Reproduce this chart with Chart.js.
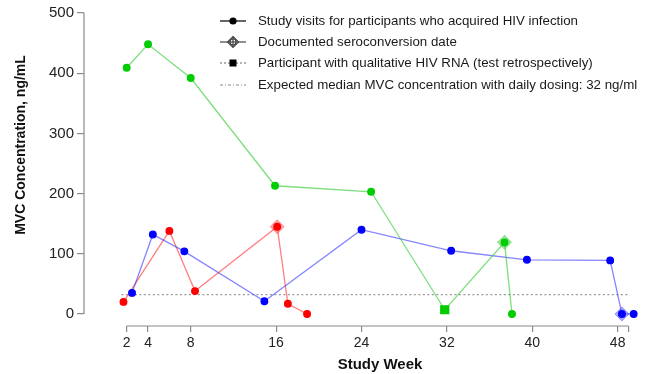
<!DOCTYPE html>
<html>
<head>
<meta charset="utf-8">
<script src="https://cdn.jsdelivr.net/npm/chart.js@4"></script>
<style>
    body { margin: 0; background: #fff; }
    canvas { display: block; }
</style>
</head>
<body>
<canvas id="grafico" width="649" height="374"></canvas>
<script>
// valores (semana do estudo, concentração MVC ng/mL)
const semanasVerde = [2, 4, 8, 15.9, 24.9, 31.8, 37.4, 38.1];
const mvcVerde = [409, 448, 392, 213, 203, 7, 119, 0];
const estilosVerde = ['circle', 'circle', 'circle', 'circle', 'circle', 'rect', 'circle', 'circle'];

const semanasAzul = [2.5, 4.45, 7.4, 14.9, 24, 32.4, 39.5, 47.3, 48.4, 49.5];
const mvcAzul = [35, 132, 104, 21, 140, 105, 90, 89, 0, 0];

const semanasVermelho = [1.7, 6, 8.4, 16.1, 17.1, 18.9];
const mvcVermelho = [20, 138, 38, 145, 17, 0];

const semanasSoroconversao = [16.1, 37.4, 48.4];
const mvcSoroconversao = [145, 119, 0];
const coresSoroconversao = ['rgba(255,60,60,0.45)', 'rgba(40,200,40,0.45)', 'rgba(70,70,255,0.45)'];

const linhaEsperada = 32;
const semanasLinhaEsperada = [1.5, 49];

const ticksX = [2, 4, 8, 16, 24, 32, 40, 48, 49];
const ticksY = [0, 100, 200, 300, 400, 500];

const textosLegenda = [
    'Study visits for participants who acquired HIV infection',
    'Documented seroconversion date',
    'Participant with qualitative HIV RNA (test retrospectively)',
    'Expected median MVC concentration with daily dosing: 32 ng/ml'
];

const juntar = (xs, ys) => xs.map((x, i) => ({ x: x, y: ys[i] }));

const FONTE = '"Liberation Sans", Arial, sans-serif';

const pluginExtras = {
    id: 'extras',
    afterDraw(chart) {
        const ctx = chart.ctx;
        const x = chart.scales.x;
        const y = chart.scales.y;
        ctx.save();

        // linhas dos eixos (estilo R, destacadas)
        ctx.strokeStyle = '#8a8a8a';
        ctx.lineWidth = 1.2;
        ctx.beginPath();
        ctx.moveTo(84, y.getPixelForValue(0));
        ctx.lineTo(84, y.getPixelForValue(500));
        ctx.moveTo(x.getPixelForValue(2), 326);
        ctx.lineTo(x.getPixelForValue(49), 326);
        ctx.stroke();

        // títulos dos eixos
        ctx.fillStyle = '#111';
        ctx.font = 'bold 15px ' + FONTE;
        ctx.textAlign = 'center';
        ctx.textBaseline = 'middle';
        ctx.fillText('Study Week', 380, 365);
        ctx.translate(21, 145);
        ctx.rotate(-Math.PI / 2);
        ctx.font = 'bold 14px ' + FONTE;
        ctx.fillText('MVC Concentration, ng/mL', 0, 0);
        ctx.restore();

        // legenda
        ctx.save();
        const linhasY = [21, 42, 63, 85];
        const x0 = 220, x1 = 246, xm = 233;
        ctx.lineWidth = 1.2;

        ctx.strokeStyle = '#000';
        ctx.beginPath(); ctx.moveTo(x0, linhasY[0]); ctx.lineTo(x1, linhasY[0]); ctx.stroke();
        ctx.fillStyle = '#000';
        ctx.beginPath(); ctx.arc(xm, linhasY[0], 3.6, 0, Math.PI * 2); ctx.fill();

        ctx.strokeStyle = '#444';
        ctx.beginPath(); ctx.moveTo(x0, linhasY[1]); ctx.lineTo(x1, linhasY[1]); ctx.stroke();
        ctx.beginPath();
        ctx.moveTo(xm, linhasY[1] - 5.5); ctx.lineTo(xm + 5.5, linhasY[1]);
        ctx.lineTo(xm, linhasY[1] + 5.5); ctx.lineTo(xm - 5.5, linhasY[1]); ctx.closePath();
        ctx.moveTo(xm, linhasY[1] - 5.5); ctx.lineTo(xm, linhasY[1] + 5.5);
        ctx.stroke();
        ctx.beginPath(); ctx.arc(xm, linhasY[1], 3, 0, Math.PI * 2); ctx.stroke();

        ctx.strokeStyle = '#666';
        ctx.setLineDash([2, 2]);
        ctx.beginPath(); ctx.moveTo(x0, linhasY[2]); ctx.lineTo(x1, linhasY[2]); ctx.stroke();
        ctx.setLineDash([]);
        ctx.fillStyle = '#000';
        ctx.fillRect(xm - 3.5, linhasY[2] - 3.5, 7, 7);

        ctx.strokeStyle = '#888';
        ctx.lineWidth = 1;
        ctx.setLineDash([3, 2, 1, 2]);
        ctx.beginPath(); ctx.moveTo(x0, linhasY[3]); ctx.lineTo(x1, linhasY[3]); ctx.stroke();
        ctx.setLineDash([]);

        ctx.fillStyle = '#1a1a1a';
        ctx.font = '13.3px ' + FONTE;
        ctx.textAlign = 'left';
        ctx.textBaseline = 'middle';
        textosLegenda.forEach((t, i) => ctx.fillText(t, 258, linhasY[i]));
        ctx.restore();
    }
};

const ctxGrafico = document.getElementById('grafico');

new Chart(ctxGrafico, {
    type: 'scatter',
    data: {
        datasets: [
            {
                label: 'esperado',
                data: juntar(semanasLinhaEsperada, [linhaEsperada, linhaEsperada]),
                showLine: true,
                borderColor: '#999',
                borderWidth: 1.2,
                borderDash: [2, 2.5],
                pointRadius: 0,
                order: 5
            },
            {
                label: 'soroconversao',
                data: juntar(semanasSoroconversao, mvcSoroconversao),
                showLine: false,
                pointStyle: 'rectRot',
                pointRadius: 7,
                backgroundColor: coresSoroconversao,
                borderColor: coresSoroconversao,
                borderWidth: 1,
                order: 4
            },
            {
                label: 'vermelho',
                data: juntar(semanasVermelho, mvcVermelho),
                showLine: true,
                borderColor: 'rgba(255,40,40,0.6)',
                borderWidth: 1.3,
                backgroundColor: '#ff0000',
                pointBorderColor: '#ff0000',
                pointRadius: 3.3,
                order: 3
            },
            {
                label: 'azul',
                data: juntar(semanasAzul, mvcAzul),
                showLine: true,
                borderColor: 'rgba(50,50,255,0.6)',
                borderWidth: 1.3,
                backgroundColor: '#0000ff',
                pointBorderColor: '#0000ff',
                pointRadius: 3.3,
                order: 2
            },
            {
                label: 'verde',
                data: juntar(semanasVerde, mvcVerde),
                showLine: true,
                borderColor: 'rgba(40,200,40,0.6)',
                borderWidth: 1.3,
                backgroundColor: '#00cc00',
                pointBorderColor: '#00cc00',
                pointStyle: estilosVerde,
                pointRadius: estilosVerde.map((s) => s === 'rect' ? 5.6 : 3.3),
                order: 1
            }
        ]
    },
    options: {
        responsive: false,
        animation: false,
        devicePixelRatio: 1,
        layout: { padding: { top: 13, right: 10, left: 0, bottom: 0 } },
        plugins: {
            legend: { display: false },
            tooltip: { enabled: false }
        },
        scales: {
            x: {
                type: 'linear',
                min: -2,
                max: 50,
                afterFit: (escala) => { escala.height = 48; },
                afterBuildTicks: (escala) => { escala.ticks = ticksX.map((v) => ({ value: v })); },
                grid: { drawOnChartArea: false, drawTicks: true, tickLength: 6, color: '#8a8a8a', lineWidth: 1.2 },
                border: { display: false },
                ticks: {
                    autoSkip: false,
                    maxRotation: 0,
                    padding: 3,
                    color: '#222',
                    font: { family: FONTE, size: 14 },
                    callback: (v) => v === 49 ? '' : v
                }
            },
            y: {
                type: 'linear',
                min: -20,
                max: 500,
                afterFit: (escala) => { escala.width = 84; },
                afterBuildTicks: (escala) => { escala.ticks = ticksY.map((v) => ({ value: v })); },
                grid: { drawOnChartArea: false, drawTicks: true, tickLength: 7, color: '#8a8a8a', lineWidth: 1.2 },
                border: { display: false },
                ticks: {
                    padding: 3,
                    color: '#222',
                    font: { family: FONTE, size: 15 }
                }
            }
        }
    },
    plugins: [pluginExtras]
});
</script>
</body>
</html>
